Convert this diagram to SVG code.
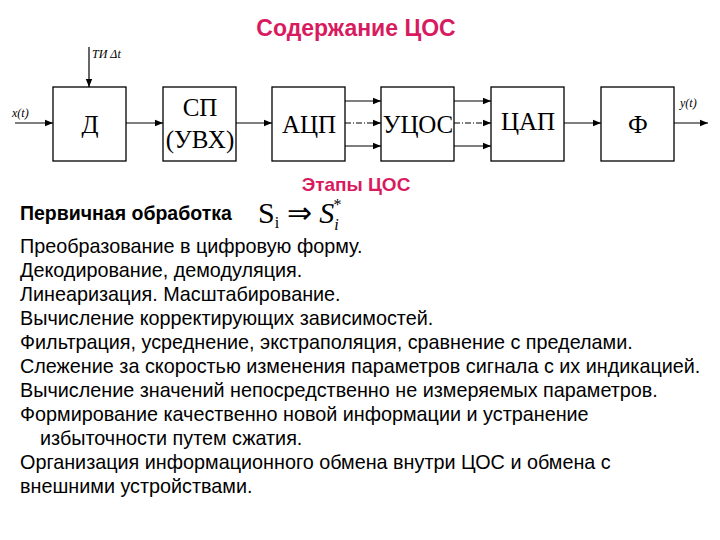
<svg xmlns="http://www.w3.org/2000/svg" width="720" height="540" viewBox="0 0 720 540">
<defs><marker id="a" viewBox="0 0 10 10" refX="10" refY="5" markerWidth="7" markerHeight="7" orient="auto"><path d="M0,1L10,5L0,9z" fill="#000"/></marker></defs>
<style>
.b{fill:#fff;stroke:#000;stroke-width:1.3}
.t{font-family:"Liberation Serif",serif;font-size:25px;text-anchor:middle}
.s{font-family:"Liberation Serif",serif;font-size:12px;font-style:italic}
.l{stroke:#000;stroke-width:1.2;fill:none;marker-end:url(#a)}
.d{stroke-dasharray:6,2,1,2}
.h{font-family:"Liberation Sans",sans-serif;font-weight:bold;fill:#d81b60;text-anchor:middle}
.p{font-family:"Liberation Sans",sans-serif;font-size:19.8px}
</style>
<rect width="720" height="540" fill="#fff"/>
<text class="h" x="356" y="36" font-size="23">Содержание ЦОС</text>
<g id="edges">
<path class="l" d="M89,47V87"/>
<path class="l" d="M15,123H53"/>
<path class="l" d="M126,123H163"/>
<path class="l" d="M236,123H272"/>
<path class="l" d="M345,101H381"/><path class="l d" d="M345,123H381"/><path class="l" d="M345,146H381"/>
<path class="l" d="M454,101H491"/><path class="l d" d="M454,123H491"/><path class="l" d="M454,146H491"/>
<path class="l" d="M564,123H601"/>
<path class="l" d="M674,123H708"/>
</g>
<text class="s" x="92" y="58">ТИ  Δ<tspan>t</tspan></text>
<text class="s" x="12" y="117">x(t)</text>
<text class="s" x="680" y="107">y(t)</text>
<g id="n1"><rect class="b" x="53" y="87" width="73" height="74"/><text class="t" x="90" y="133">Д</text></g>
<g id="n2"><rect class="b" x="163" y="87" width="73" height="74"/><text class="t" x="200" y="116">СП</text><text class="t" x="200" y="148">(УВХ)</text></g>
<g id="n3"><rect class="b" x="272" y="87" width="73" height="74"/><text class="t" x="309" y="133">АЦП</text></g>
<g id="n4"><rect class="b" x="381" y="87" width="73" height="74"/><text class="t" x="418" y="133" font-size="23">УЦОС</text></g>
<g id="n5"><rect class="b" x="491" y="87" width="73" height="74"/><text class="t" x="528" y="130">ЦАП</text></g>
<g id="n6"><rect class="b" x="601" y="87" width="73" height="74"/><text class="t" x="638" y="133">Ф</text></g>
<text class="h" x="356" y="191" font-size="19">Этапы ЦОС</text>
<text x="20" y="220" font-family="Liberation Sans,sans-serif" font-weight="bold" font-size="19.5">Первичная обработка</text>
<text x="258" y="223" font-family="Liberation Serif,serif" font-size="30">S<tspan font-size="16" dy="5">i</tspan><tspan dy="-5"> ⇒ </tspan><tspan font-style="italic">S</tspan><tspan font-size="16" font-style="italic" dy="7">i</tspan><tspan font-size="16" dx="-5" dy="-20">*</tspan></text>
<g class="p">
<text x="20" y="253">Преобразование в цифровую форму.</text>
<text x="20" y="277">Декодирование, демодуляция.</text>
<text x="20" y="301">Линеаризация. Масштабирование.</text>
<text x="20" y="325">Вычисление корректирующих зависимостей.</text>
<text x="20" y="349">Фильтрация, усреднение, экстраполяция, сравнение с пределами.</text>
<text x="20" y="373">Слежение за скоростью изменения параметров сигнала с их индикацией.</text>
<text x="20" y="397">Вычисление значений непосредственно не измеряемых параметров.</text>
<text x="20" y="421">Формирование качественно новой информации и устранение</text>
<text x="40" y="445">избыточности путем  сжатия.</text>
<text x="20" y="469">Организация информационного обмена внутри ЦОС и обмена с</text>
<text x="20" y="493">внешними устройствами.</text>
</g>
</svg>
